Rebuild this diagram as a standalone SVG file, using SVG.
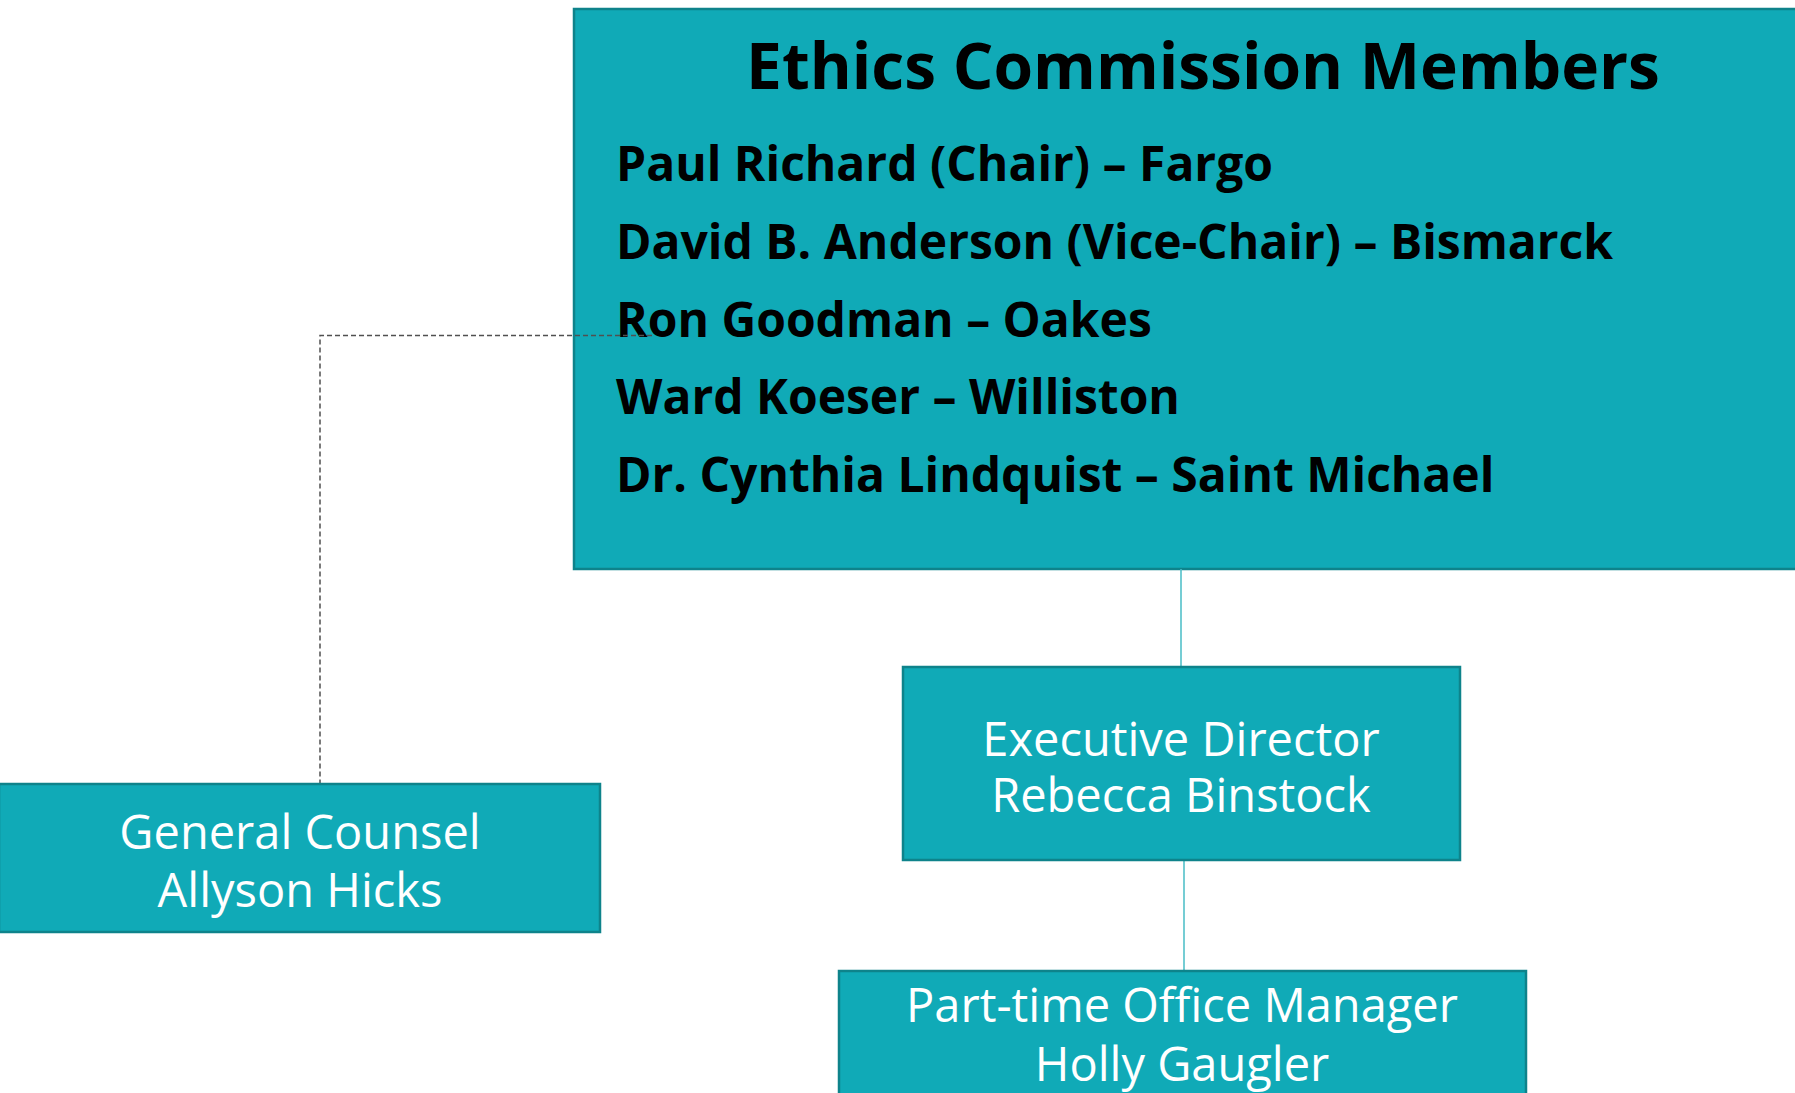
<svg xmlns="http://www.w3.org/2000/svg" width="1795" height="1093" viewBox="0 0 1795 1093">
<style>
.box{fill:#10aab7;stroke:#0e838b;stroke-width:2.5}
.t{font-family:"Open Sans","Noto Sans","Liberation Sans",sans-serif;fill:#ffffff;font-size:47px;text-anchor:middle}
.b{font-family:"Open Sans","Noto Sans","Liberation Sans",sans-serif;fill:#000000;font-weight:bold}
.m{font-size:48px}
.solid{stroke:#47bcc6;stroke-width:1.5;fill:none}
.dash{stroke:#505050;stroke-width:1.5;stroke-dasharray:5 3;fill:none}
</style>
<rect width="1795" height="1093" fill="#ffffff"/>
<g id="commission">
<rect class="box" x="574" y="9" width="1240" height="560"/>
<text class="b" x="1203" y="89" font-size="64" text-anchor="middle">Ethics Commission Members</text>
<text class="b m" x="616" y="181">Paul Richard (Chair) – Fargo</text>
<text class="b m" x="616" y="259">David B. Anderson (Vice-Chair) – Bismarck</text>
<text class="b m" x="616" y="337">Ron Goodman – Oakes</text>
<text class="b m" x="616" y="414">Ward Koeser – Williston</text>
<text class="b m" x="616" y="492">Dr. Cynthia Lindquist – Saint Michael</text>
</g>
<g id="connectors">
<path class="dash" d="M652 335.5 H320 V784"/>
<path class="solid" d="M1181 569 V667"/>
<path class="solid" d="M1184 860 V971"/>
</g>
<g id="executive-director">
<rect class="box" x="903" y="667" width="557" height="193"/>
<text class="t" x="1181" y="756">Executive Director</text>
<text class="t" x="1181" y="812">Rebecca Binstock</text>
</g>
<g id="general-counsel">
<rect class="box" x="-1" y="784" width="601" height="148"/>
<text class="t" x="300" y="849">General Counsel</text>
<text class="t" x="300" y="907">Allyson Hicks</text>
</g>
<g id="office-manager">
<rect class="box" x="839" y="971" width="687" height="140"/>
<text class="t" x="1182" y="1022">Part-time Office Manager</text>
<text class="t" x="1182" y="1081">Holly Gaugler</text>
</g>
</svg>
